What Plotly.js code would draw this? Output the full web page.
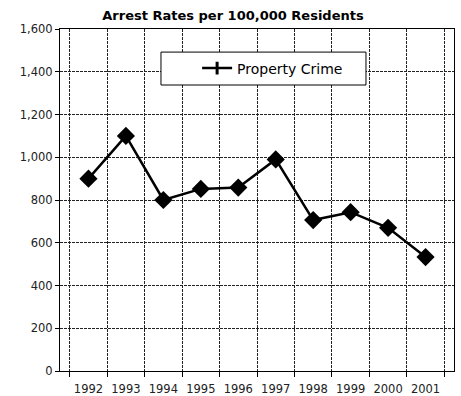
<!DOCTYPE html>
<html>
<head>
<meta charset="utf-8">
<script src="https://cdn.plot.ly/plotly-3.0.1.min.js"></script>
<style>html,body{margin:0;padding:0;background:#fff;}#chart{width:461px;height:396px;}</style>
</head>
<body>
<div id="chart"></div>
<script>
const years = ["1992","1993","1994","1995","1996","1997","1998","1999","2000","2001"];
const propertyCrime = [900, 1100, 800, 852, 858, 990, 706, 743, 670, 533];
const yTicks = [0, 200, 400, 600, 800, 1000, 1200, 1400, 1600];
const seriesName = "Property Crime";
const chartTitle = "Arrest Rates per 100,000 Residents";

const FONT = "DejaVu Sans, Liberation Sans, Arial, sans-serif";

const trace = {
  x: years, y: propertyCrime, name: seriesName,
  type: "scatter", mode: "lines+markers", showlegend: false,
  line: {color: "#000", width: 2.5},
  marker: {symbol: "diamond", size: 14, color: "#000"}
};
// legend-only entry mimicking the original's line-with-tick legend key
const legendKey = {
  x: [null], y: [null], name: seriesName,
  type: "scatter", mode: "lines+markers", showlegend: true,
  line: {color: "#000", width: 2.5},
  marker: {symbol: "line-ns", size: 9, color: "#000", line: {color: "#000", width: 3}}
};
const layout = {
  width: 461, height: 396,
  margin: {l: 60, r: 7, t: 29, b: 25},
  paper_bgcolor: "#fff", plot_bgcolor: "#fff",
  font: {family: FONT, size: 11.5, color: "#222"},
  title: {text: "<b>" + chartTitle + "</b>", x: 0.5054, xref: "container", xanchor: "center",
          y: 0.962, yanchor: "middle", font: {family: FONT, size: 13, color: "#000"}},
  showlegend: true,
  legend: {x: 0.348, y: 0.8845, xanchor: "left", yanchor: "middle", bgcolor: "rgba(0,0,0,0)",
           borderwidth: 0, font: {family: FONT, size: 14, color: "#000"}},
  shapes: [{type: "rect", xref: "paper", yref: "y", x0: 0.2563, x1: 0.7766, y0: 1338, y1: 1492,
            fillcolor: "#fff", line: {color: "#000", width: 1}, layer: "above"}],
  xaxis: {type: "category", tickson: "boundaries", ticks: "outside", ticklen: 5, tickcolor: "#000",
          tickangle: 0, ticklabelstandoff: 7,
          showgrid: true, gridcolor: "#222", griddash: "3px,1px", gridwidth: 1,
          showline: true, linecolor: "#000", linewidth: 1, mirror: true, zeroline: false,
          tickfont: {family: FONT, size: 11.5, color: "#222"}, fixedrange: true},
  yaxis: {range: [0, 1600], tickvals: yTicks, tickformat: ",", ticks: "outside", ticklen: 4, tickcolor: "#000",
          showgrid: true, gridcolor: "#222", griddash: "3px,1px", gridwidth: 1,
          showline: true, linecolor: "#000", linewidth: 1, mirror: true, zeroline: false,
          tickfont: {family: FONT, size: 11.5, color: "#222"}, fixedrange: true}
};
Plotly.newPlot("chart", [trace, legendKey], layout, {displayModeBar: false, staticPlot: true});
</script>
</body>
</html>
